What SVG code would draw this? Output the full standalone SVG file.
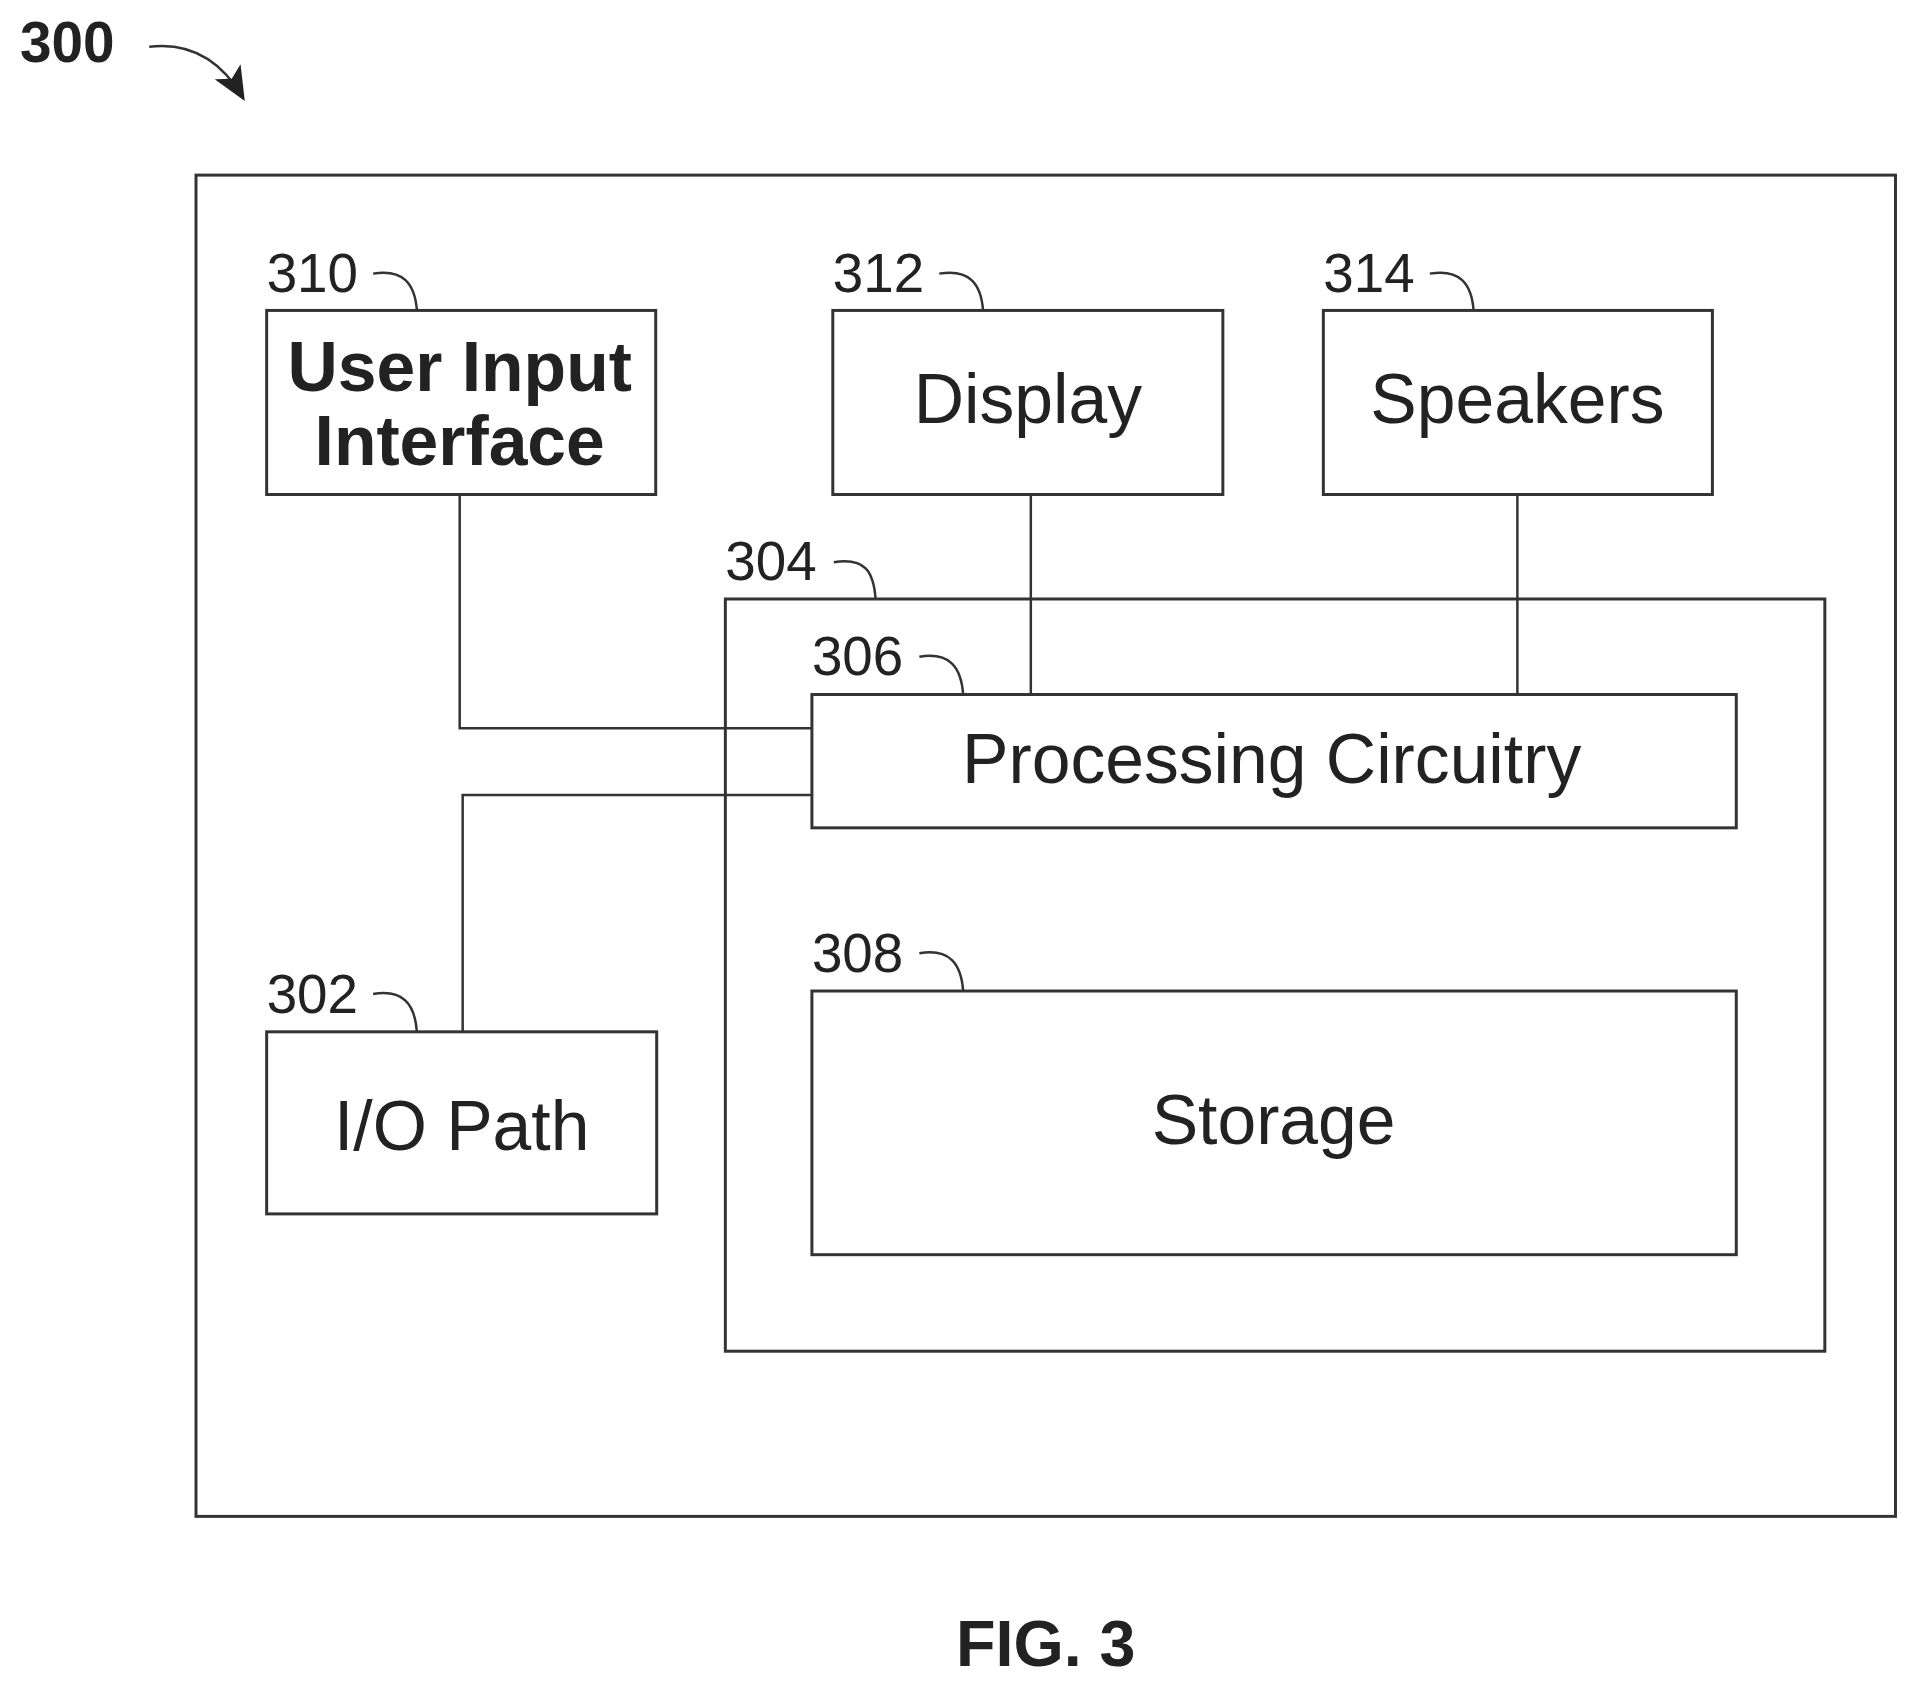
<svg xmlns="http://www.w3.org/2000/svg" width="1917" height="1687" viewBox="0 0 1917 1687">
<style>
.b{fill:#fff;stroke:#333;stroke-width:3}
.c{fill:none;stroke:#333;stroke-width:2.5}
.t{font-family:"Liberation Sans",Arial,sans-serif;font-size:70px;fill:#222;text-anchor:middle}
.n{font-family:"Liberation Sans",Arial,sans-serif;font-size:55px;fill:#222}
.bd{font-weight:bold}
</style>
<defs>
<marker id="ah2" markerWidth="34" markerHeight="30" refX="30" refY="15" orient="auto" markerUnits="userSpaceOnUse"><path d="M0,0 L34,15 L0,30 L8,15 z" fill="#222"/></marker></defs>
<g transform="scale(0.995)">
<text class="n bd" x="20" y="62" style="font-size:57px">300</text>
<path class="c" d="M150,47 Q210,40 244,98" stroke-width="4" marker-end="url(#ah2)"/>
<g id="device"><rect class="b" x="197" y="176" width="1708" height="1348" stroke-width="4"/></g>
<g id="n304"><rect class="b" x="729" y="602" width="1105" height="756"/><text class="n" x="729" y="583">304</text><path class="c" d="M838,565 C870,560 878,575 880,602"/></g>
<g id="connectors">
<path class="c" d="M462,497 V732 H816"/>
<path class="c" d="M465,1037 V799 H816"/>
<path class="c" d="M1036,497 V698"/>
<path class="c" d="M1525,497 V698"/>
</g>
<g id="n310"><rect class="b" x="268" y="312" width="391" height="185"/><text class="t bd" x="462" y="393">User Input</text><text class="t bd" x="462" y="467">Interface</text><text class="n" x="268" y="293">310</text><path class="c" d="M375,275 C405,270 417,285 419,312"/></g>
<g id="n312"><rect class="b" x="837" y="312" width="392" height="185"/><text class="t" x="1033" y="425">Display</text><text class="n" x="837" y="293">312</text><path class="c" d="M944,275 C974,270 986,285 988,312"/></g>
<g id="n314"><rect class="b" x="1330" y="312" width="391" height="185"/><text class="t" x="1525" y="425">Speakers</text><text class="n" x="1330" y="293">314</text><path class="c" d="M1437,275 C1467,270 1479,285 1481,312"/></g>
<g id="n306"><rect class="b" x="816" y="698" width="929" height="134"/><text class="t" x="1278" y="787">Processing Circuitry</text><text class="n" x="816" y="678">306</text><path class="c" d="M924,660 C954,655 966,670 968,698"/></g>
<g id="n308"><rect class="b" x="816" y="996" width="929" height="265"/><text class="t" x="1280" y="1150">Storage</text><text class="n" x="816" y="977">308</text><path class="c" d="M924,958 C954,953 966,968 968,996"/></g>
<g id="n302"><rect class="b" x="268" y="1037" width="392" height="183"/><text class="t" x="464" y="1156">I/O Path</text><text class="n" x="268" y="1018">302</text><path class="c" d="M375,999 C405,994 417,1009 419,1037"/></g>
<text class="t bd" x="1051" y="1674" style="font-size:65px">FIG. 3</text>
</g>
</svg>
